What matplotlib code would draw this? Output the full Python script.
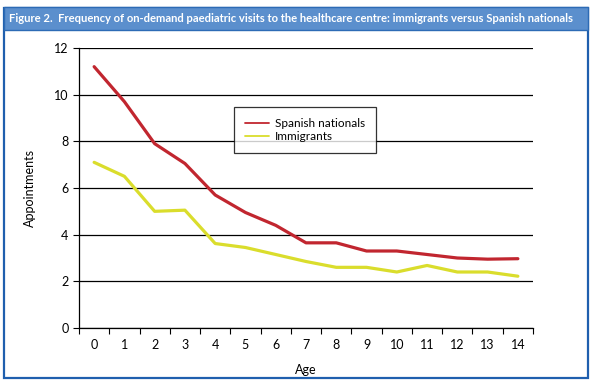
import matplotlib.pyplot as plt
from matplotlib.patches import Rectangle

ages = list(range(15))
spanish = [11.2, 9.7, 7.9, 7.05, 5.7, 4.95, 4.4, 3.65, 3.65, 3.3, 3.3, 3.15, 3.0, 2.95, 2.97]
immigrants = [7.1, 6.5, 5.0, 5.05, 3.62, 3.45, 3.15, 2.85, 2.6, 2.6, 2.4, 2.68, 2.4, 2.4, 2.22]
y_ticks = [0, 2, 4, 6, 8, 10, 12]

title = "Figure 2.  Frequency of on-demand paediatric visits to the healthcare centre: immigrants versus Spanish nationals"

plt.rcParams['font.family'] = ['Lato', 'DejaVu Sans']

fig = plt.figure(figsize=(5.92, 3.83), dpi=100)
W, H = 592, 383

# outer frame and title bar
fig.patches.append(Rectangle((4 / W, 5 / H), 584 / W, 370 / H, transform=fig.transFigure,
                             fill=False, edgecolor='#1f5fae', linewidth=1.6))
fig.patches.append(Rectangle((4 / W, 1 - 30 / H), 584 / W, 23 / H, transform=fig.transFigure,
                             facecolor='#5b8fcd', edgecolor='#2d6bb5', linewidth=1.0))
fig.text(9 / W, 1 - 18.5 / H, title, color='white', fontsize=8.15, fontweight='bold',
         va='center', ha='left')

ax = fig.add_axes([79 / W, 1 - 328 / H, (533 - 79) / W, (328 - 48) / H])

ax.plot(ages, spanish, color='#c1262f', linewidth=2.3, solid_joinstyle='round',
        solid_capstyle='round', label='Spanish nationals', zorder=3)
ax.plot(ages, immigrants, color='#dadd2c', linewidth=2.3, solid_joinstyle='round',
        solid_capstyle='round', label='Immigrants', zorder=3)

ax.set_xlim(-0.5, 14.5)
ax.set_ylim(0, 12)
ax.set_yticks(y_ticks)
ax.set_xticks(ages)
ax.set_xticks([a - 0.5 for a in ages] + [14.5], minor=True)
ax.tick_params(axis='x', which='major', length=0, pad=8, labelsize=9)
ax.tick_params(axis='x', which='minor', length=4, width=0.8, direction='out')
ax.tick_params(axis='y', length=4, width=0.8, direction='out', labelsize=9)
ax.grid(axis='y', color='black', linewidth=0.9)
ax.set_axisbelow(True)
for s in ['top', 'right']:
    ax.spines[s].set_visible(False)
for s in ['left', 'bottom']:
    ax.spines[s].set_linewidth(0.9)

ax.set_xlabel('Age', fontsize=9, labelpad=9)
ax.set_ylabel('Appointments', fontsize=9, labelpad=13)

leg = ax.legend(loc='upper left', bbox_to_anchor=((234 - 79) / 454, (328 - 107) / 280),
                fontsize=8.5, frameon=True, fancybox=False, handlelength=2.0,
                handletextpad=0.5, borderpad=0.95, labelspacing=0.15, borderaxespad=0)
leg.get_frame().set_edgecolor('black')
leg.get_frame().set_linewidth(0.9)
for line in leg.get_lines():
    line.set_linewidth(1.3)

fig.savefig('out.png', dpi=100)
